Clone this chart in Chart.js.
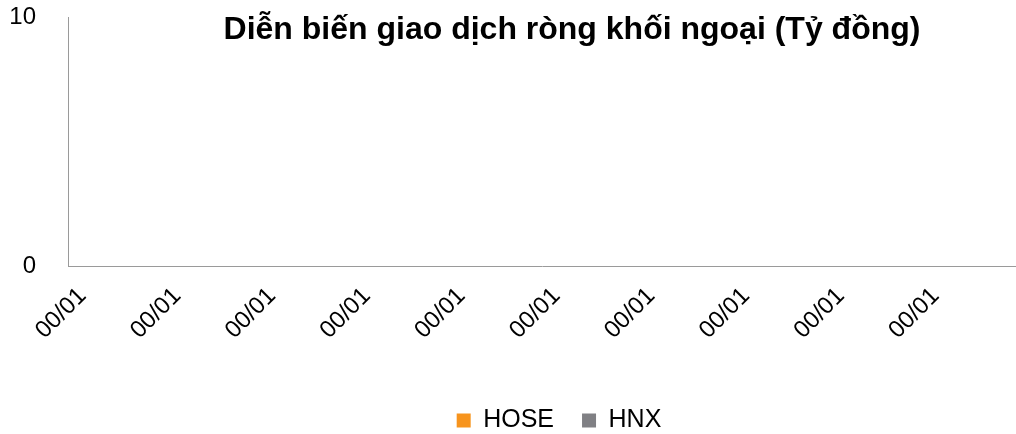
<!DOCTYPE html>
<html lang="vi">
<head>
    <meta charset="UTF-8">
    <title>Diễn biến giao dịch ròng khối ngoại</title>
    <script src="https://cdn.jsdelivr.net/npm/chart.js"></script>
    <style>
        html, body { margin: 0; padding: 0; background: #fff; }
        #wrap { width: 1016px; height: 434px; }
    </style>
</head>
<body>
    <div id="wrap"><canvas id="chart"></canvas></div>

    <script>
        // dữ liệu
        const labels = ['00/01', '00/01', '00/01', '00/01', '00/01', '00/01', '00/01', '00/01', '00/01', '00/01'];
        const hose = [0, 0, 0, 0, 0, 0, 0, 0, 0, 0];
        const hnx = [0, 0, 0, 0, 0, 0, 0, 0, 0, 0];
        const yTicks = [0, 10];
        const title = 'Diễn biến giao dịch ròng khối ngoại (Tỷ đồng)';

        const FONT = "'Liberation Sans', Arial, sans-serif";

        // tiêu đề nằm đè lên vùng vẽ, giống bản gốc
        const titlePlugin = {
            id: 'overTitle',
            afterDraw(chart) {
                const ctx = chart.ctx;
                ctx.save();
                ctx.font = 'bold 32px ' + FONT;
                ctx.fillStyle = '#000';
                ctx.textAlign = 'center';
                ctx.textBaseline = 'alphabetic';
                ctx.fillText(title, 572, 39);
                ctx.restore();
            }
        };

        // dời chú thích sang phải / xuống dưới một chút như bản gốc
        const legendShift = {
            id: 'legendShift',
            afterLayout(chart) {
                const lg = chart.legend;
                lg.left += 51; lg.right += 51;
                lg.top += 9; lg.bottom += 9;
            }
        };

        new Chart(document.getElementById('chart'), {
            type: 'bar',
            data: {
                labels: labels,
                datasets: [
                    { label: 'HOSE', data: hose, backgroundColor: '#F7941D' },
                    { label: 'HNX', data: hnx, backgroundColor: '#808084' }
                ]
            },
            options: {
                responsive: true,
                maintainAspectRatio: false,
                animation: false,
                layout: { padding: { top: 17, left: 0, right: 0, bottom: 0 } },
                plugins: {
                    title: { display: false },
                    tooltip: { enabled: false },
                    legend: {
                        position: 'bottom',
                        labels: {
                            boxWidth: 14,
                            boxHeight: 14,
                            padding: 28,
                            color: '#000',
                            font: { family: FONT, size: 25 }
                        }
                    }
                },
                scales: {
                    x: {
                        grid: { display: false, drawTicks: false },
                        border: { display: true, color: '#9a9a9a', width: 1 },
                        ticks: {
                            color: '#000',
                            font: { family: FONT, size: 24 },
                            minRotation: 45,
                            maxRotation: 45,
                            autoSkip: false,
                            labelOffset: -33,
                            padding: 16
                        },
                        afterFit(scale) {
                            scale.height = 105;
                            scale.paddingLeft = 0; scale.paddingRight = 0;
                        }
                    },
                    y: {
                        min: 0,
                        max: 10,
                        grid: { display: false, drawTicks: false },
                        border: { display: true, color: '#9a9a9a', width: 1 },
                        afterBuildTicks(scale) { scale.ticks = yTicks.map(v => ({ value: v })); },
                        ticks: {
                            color: '#000',
                            font: { family: FONT, size: 24 },
                            padding: 32
                        },
                        afterFit(scale) {
                            scale.width = 68;
                            scale.paddingTop = 0; scale.paddingBottom = 0;
                        }
                    }
                }
            },
            plugins: [titlePlugin, legendShift]
        });
    </script>
</body>
</html>
